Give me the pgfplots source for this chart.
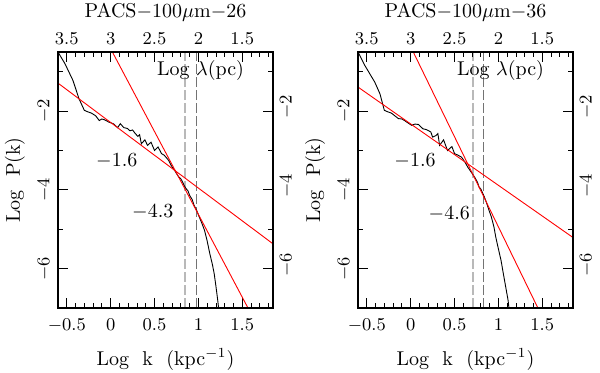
\documentclass[border=0pt]{standalone}
\usepackage{pgfplots}
\pgfplotsset{compat=1.18}

% P(k) spectra, two fields
\pgfplotstableread{
lk    lp
-0.60 -0.50
-0.52 -0.80
-0.43 -1.22
-0.36 -1.69
-0.30 -1.98
-0.26 -2.02
-0.22 -2.05
-0.17 -2.12
-0.13 -2.24
-0.10 -2.20
-0.07 -2.22
-0.02 -2.28
0.03 -2.32
0.08 -2.42
0.11 -2.32
0.15 -2.42
0.19 -2.44
0.22 -2.50
0.25 -2.48
0.28 -2.57
0.31 -2.64
0.33 -2.60
0.35 -2.83
0.39 -2.73
0.42 -2.87
0.46 -2.79
0.50 -3.00
0.54 -2.91
0.58 -3.08
0.61 -3.12
0.63 -3.17
0.66 -3.25
0.69 -3.38
0.71 -3.45
0.73 -3.51
0.76 -3.62
0.78 -3.68
0.80 -3.72
0.82 -3.80
0.84 -3.90
0.86 -3.97
0.88 -4.02
0.90 -4.14
0.93 -4.25
0.95 -4.39
0.98 -4.52
1.01 -4.69
1.04 -4.85
1.07 -5.03
1.10 -5.30
1.13 -5.62
1.16 -5.90
1.18 -6.13
1.20 -6.45
1.22 -6.80
1.23 -7.00
}\specA

\pgfplotstableread{
lk    lp
-0.60 -0.50
-0.52 -0.85
-0.41 -1.26
-0.35 -1.56
-0.30 -1.98
-0.26 -2.02
-0.22 -2.05
-0.18 -2.12
-0.14 -2.19
-0.10 -2.20
-0.07 -2.24
-0.03 -2.30
0.01 -2.36
0.05 -2.33
0.09 -2.34
0.14 -2.45
0.18 -2.47
0.23 -2.53
0.25 -2.66
0.29 -2.62
0.31 -2.57
0.33 -2.87
0.375 -2.73
0.42 -3.00
0.47 -2.90
0.50 -3.08
0.54 -3.12
0.58 -3.17
0.62 -3.30
0.65 -3.42
0.69 -3.55
0.73 -3.68
0.76 -3.80
0.78 -3.93
0.80 -3.98
0.82 -4.08
0.84 -4.18
0.86 -4.30
0.89 -4.50
0.92 -4.69
0.95 -4.95
0.97 -5.20
1.00 -5.50
1.03 -5.79
1.05 -6.05
1.07 -6.30
1.09 -6.55
1.11 -6.80
1.12 -7.00
}\specB

\pgfplotsset{
  panel/.style={
    scale only axis, width=107.5pt, height=128pt,
    ymin=-7, ymax=-0.5,
    ytick={-6,-4,-2}, minor ytick={-7,-5,-3,-1},
    major tick length=5pt, minor tick length=2.5pt,
    tick style={black, line width=0.4pt},
    axis line style={line width=0.6pt},
    ticklabel style={font=\small},
    clip mode=individual,
  },
  lower/.style={panel,
    xmin=-0.6, xmax=1.85,
    xtick={-0.5,0,0.5,1,1.5},
    minor xtick={-0.6,-0.4,-0.3,-0.2,-0.1,0.1,0.2,0.3,0.4,0.6,0.7,0.8,0.9,1.1,1.2,1.3,1.4,1.6,1.7,1.8},
    xtick pos=bottom, ytick pos=left,
    xticklabel style={yshift=-2pt},
    yticklabel style={rotate=90, anchor=south},
  },
  upper/.style={panel,
    x dir=reverse, xmin=1.15, xmax=3.6,
    xtick={1.5,2,2.5,3,3.5},
    minor xtick={1.2,1.3,1.4,1.6,1.7,1.8,1.9,2.1,2.2,2.3,2.4,2.6,2.7,2.8,2.9,3.1,3.2,3.3,3.4,3.6},
    xtick pos=top, xticklabel pos=top,
    ytick pos=right, yticklabel pos=right,
    yticklabel style={rotate=90, anchor=north, xshift=2pt},
  },
}

\begin{document}
\begin{tikzpicture}
\path[use as bounding box] (-29pt,-32pt) rectangle (271pt,154pt);

% ---- left panel
\begin{axis}[lower, at={(0pt,0pt)}]
\addplot[gray!55, line width=0.9pt, dash pattern=on 5pt off 1.5pt] coordinates {(0.85,-7) (0.85,-0.5)};
\addplot[gray!90!black, line width=0.5pt, dash pattern=on 5pt off 1.5pt] coordinates {(0.98,-7) (0.98,-0.5)};
\addplot[black, line width=0.45pt] table[x=lk, y=lp] {\specA};
\addplot[red, line width=0.45pt] coordinates {(-0.6,-1.29) (1.85,-5.37)};
\addplot[red, line width=0.45pt] coordinates {(0.02,-0.5) (1.565,-7.0)};
\node[anchor=east] at (axis cs:1.6,-0.97) {Log~$\lambda$(pc)};
\node at (axis cs:0.07,-3.27) {$-$1.6};
\node at (axis cs:0.48,-4.56) {$-$4.3};
\node[anchor=base] at ([yshift=-28.5pt]rel axis cs:0.5,0) {Log~~k~~(kpc$^{-1}$)};
\node[rotate=90] at ([xshift=-21.5pt]rel axis cs:0,0.5) {Log~~P(k)};
\end{axis}
\begin{axis}[upper, at={(0pt,0pt)}]
\node[anchor=base] at ([yshift=17.5pt]rel axis cs:0.5,1) {PACS$-$100$\mu$m$-$26};
\end{axis}

% ---- right panel
\begin{axis}[lower, at={(150pt,0pt)}]
\addplot[gray!55, line width=0.9pt, dash pattern=on 5pt off 1.5pt] coordinates {(0.71,-7) (0.71,-0.5)};
\addplot[gray!90!black, line width=0.5pt, dash pattern=on 5pt off 1.5pt] coordinates {(0.835,-7) (0.835,-0.5)};
\addplot[black, line width=0.45pt] table[x=lk, y=lp] {\specB};
\addplot[red, line width=0.45pt] coordinates {(-0.6,-1.39) (1.85,-5.21)};
\addplot[red, line width=0.45pt] coordinates {(0.03,-0.5) (1.45,-7.0)};
\node[anchor=east] at (axis cs:1.6,-0.97) {Log~$\lambda$(pc)};
\node at (axis cs:0.05,-3.27) {$-$1.6};
\node at (axis cs:0.44,-4.59) {$-$4.6};
\node[anchor=base] at ([yshift=-28.5pt]rel axis cs:0.5,0) {Log~~k~~(kpc$^{-1}$)};
\node[rotate=90] at ([xshift=-21.5pt]rel axis cs:0,0.5) {Log~~P(k)};
\end{axis}
\begin{axis}[upper, at={(150pt,0pt)}]
\node[anchor=base] at ([yshift=17.5pt]rel axis cs:0.5,1) {PACS$-$100$\mu$m$-$36};
\end{axis}
\end{tikzpicture}
\end{document}
